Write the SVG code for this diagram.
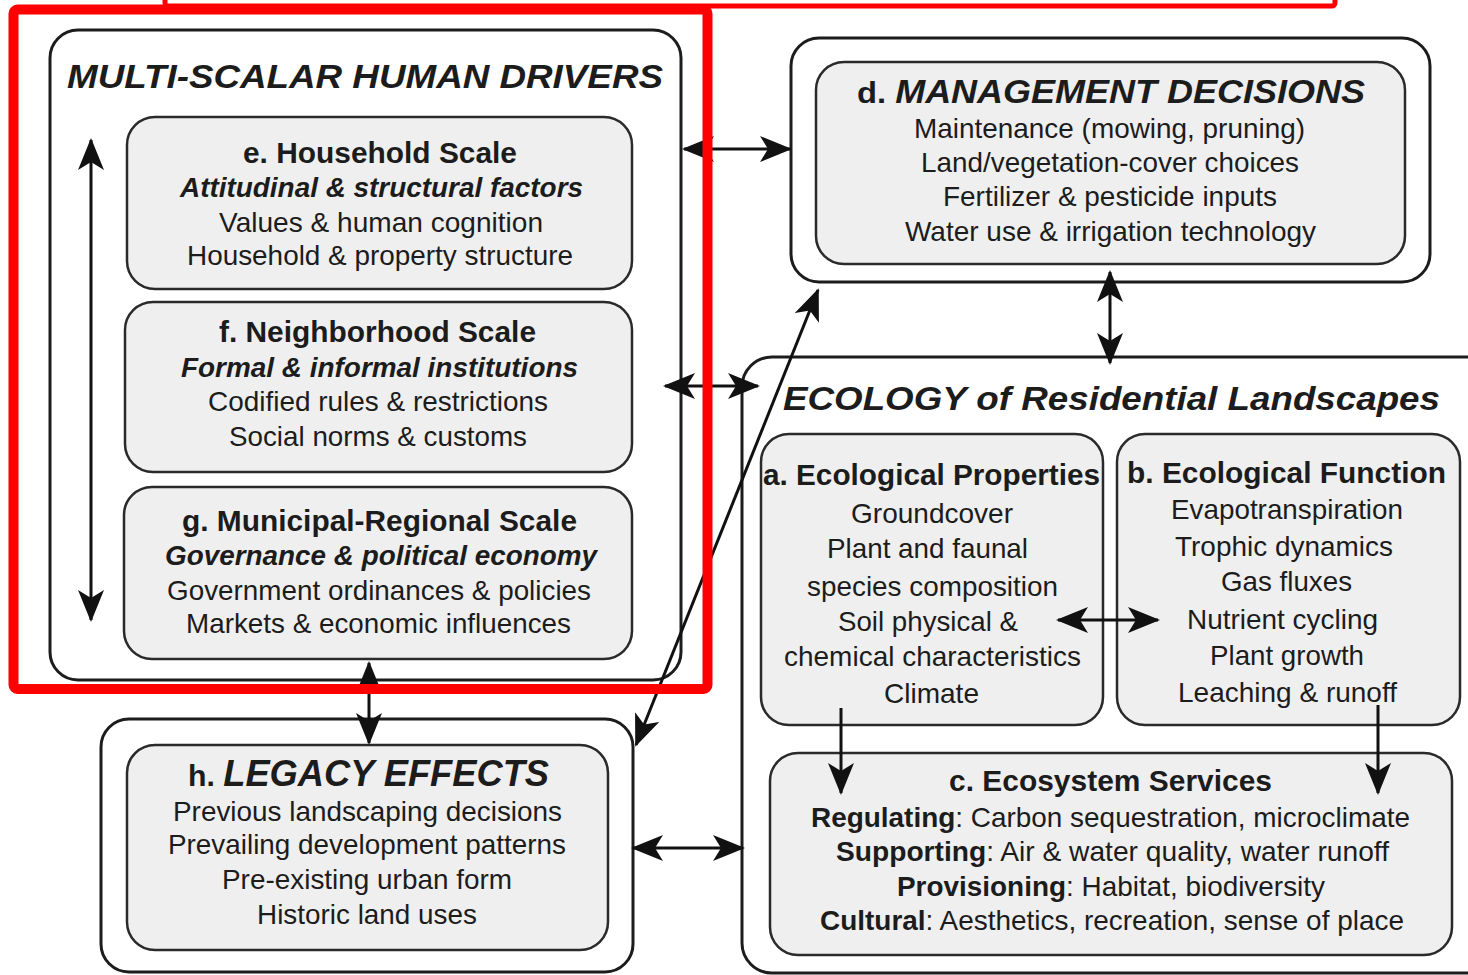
<svg xmlns="http://www.w3.org/2000/svg" width="1468" height="975" viewBox="0 0 1468 975">
<style>
text{font-family:"Liberation Sans",Arial,sans-serif;fill:#1c1c1c;}
.outer{fill:#ffffff;stroke:#1c1c1c;stroke-width:3;}
.inner{fill:#efefef;stroke:#2a2a2a;stroke-width:2.5;}
.t{font-size:28px;}
.h{font-size:29px;font-weight:bold;}
.bi{font-weight:bold;font-style:italic;}
.big{font-size:34px;font-weight:bold;font-style:italic;}
.con{stroke:#111;stroke-width:3;fill:none;}
.red{fill:none;stroke:#ff0000;}
</style>
<defs>
<marker id="ah" markerUnits="userSpaceOnUse" markerWidth="32" markerHeight="26" refX="30" refY="13" orient="auto-start-reverse" viewBox="0 0 32 26">
<path d="M0,0 L32,13 L0,26 L8,13 z" fill="#111"/>
</marker>
</defs>
<rect width="1468" height="975" fill="#ffffff"/>

<g id="multi-scalar">
<rect class="outer" x="50" y="30" width="631" height="650" rx="28"/>
<text class="big" x="67" y="88" textLength="596" lengthAdjust="spacingAndGlyphs">MULTI-SCALAR HUMAN DRIVERS</text>
</g>
<g id="node-e">
<rect class="inner" x="127" y="117" width="505" height="172" rx="28"/>
<text class="h" x="243" y="163" textLength="274" lengthAdjust="spacingAndGlyphs">e. Household Scale</text>
<text class="t bi" x="180" y="197" textLength="403" lengthAdjust="spacingAndGlyphs">Attitudinal &amp; structural factors</text>
<text class="t" x="219" y="232" textLength="324" lengthAdjust="spacingAndGlyphs">Values &amp; human cognition</text>
<text class="t" x="187" y="265" textLength="386" lengthAdjust="spacingAndGlyphs">Household &amp; property structure</text>
</g>
<g id="node-f">
<rect class="inner" x="125" y="302" width="507" height="170" rx="28"/>
<text class="h" x="219" y="342" textLength="317" lengthAdjust="spacingAndGlyphs">f. Neighborhood Scale</text>
<text class="t bi" x="181" y="377" textLength="397" lengthAdjust="spacingAndGlyphs">Formal &amp; informal institutions</text>
<text class="t" x="208" y="411" textLength="340" lengthAdjust="spacingAndGlyphs">Codified rules &amp; restrictions</text>
<text class="t" x="229" y="446" textLength="298" lengthAdjust="spacingAndGlyphs">Social norms &amp; customs</text>
</g>
<g id="node-g">
<rect class="inner" x="124" y="487" width="508" height="172" rx="28"/>
<text class="h" x="182" y="531" textLength="395" lengthAdjust="spacingAndGlyphs">g. Municipal-Regional Scale</text>
<text class="t bi" x="165" y="565" textLength="432" lengthAdjust="spacingAndGlyphs">Governance &amp; political economy</text>
<text class="t" x="167" y="600" textLength="424" lengthAdjust="spacingAndGlyphs">Government ordinances &amp; policies</text>
<text class="t" x="186" y="633" textLength="385" lengthAdjust="spacingAndGlyphs">Markets &amp; economic influences</text>
</g>

<g id="node-d">
<rect class="outer" x="791" y="38" width="639" height="244" rx="28"/>
<rect class="inner" x="816" y="62" width="589" height="202" rx="28"/>
<text x="857" y="103" textLength="508" lengthAdjust="spacingAndGlyphs"><tspan style="font-size:30px;font-weight:bold">d. </tspan><tspan class="bi" style="font-size:33px">MANAGEMENT DECISIONS</tspan></text>
<text class="t" x="914" y="138" textLength="391" lengthAdjust="spacingAndGlyphs">Maintenance (mowing, pruning)</text>
<text class="t" x="921" y="172" textLength="378" lengthAdjust="spacingAndGlyphs">Land/vegetation-cover choices</text>
<text class="t" x="943" y="206" textLength="334" lengthAdjust="spacingAndGlyphs">Fertilizer &amp; pesticide inputs</text>
<text class="t" x="905" y="241" textLength="411" lengthAdjust="spacingAndGlyphs">Water use &amp; irrigation technology</text>
</g>

<g id="ecology">
<rect class="outer" x="742" y="357" width="770" height="616" rx="30"/>
<text class="big" x="783" y="410" textLength="657" lengthAdjust="spacingAndGlyphs">ECOLOGY of Residential Landscapes</text>
</g>
<g id="node-a">
<rect class="inner" x="761" y="434" width="342" height="291" rx="28"/>
<text class="h" x="763" y="485" textLength="337" lengthAdjust="spacingAndGlyphs">a. Ecological Properties</text>
<text class="t" x="851" y="523" textLength="162" lengthAdjust="spacingAndGlyphs">Groundcover</text>
<text class="t" x="827" y="558" textLength="201" lengthAdjust="spacingAndGlyphs">Plant and faunal</text>
<text class="t" x="807" y="596" textLength="251" lengthAdjust="spacingAndGlyphs">species composition</text>
<text class="t" x="838" y="631" textLength="180" lengthAdjust="spacingAndGlyphs">Soil physical &amp;</text>
<text class="t" x="784" y="666" textLength="297" lengthAdjust="spacingAndGlyphs">chemical characteristics</text>
<text class="t" x="884" y="703" textLength="95" lengthAdjust="spacingAndGlyphs">Climate</text>
</g>
<g id="node-b">
<rect class="inner" x="1117" y="434" width="343" height="291" rx="28"/>
<text class="h" x="1127" y="483" textLength="319" lengthAdjust="spacingAndGlyphs">b. Ecological Function</text>
<text class="t" x="1171" y="519" textLength="232" lengthAdjust="spacingAndGlyphs">Evapotranspiration</text>
<text class="t" x="1175" y="556" textLength="218" lengthAdjust="spacingAndGlyphs">Trophic dynamics</text>
<text class="t" x="1221" y="591" textLength="131" lengthAdjust="spacingAndGlyphs">Gas fluxes</text>
<text class="t" x="1187" y="629" textLength="191" lengthAdjust="spacingAndGlyphs">Nutrient cycling</text>
<text class="t" x="1210" y="665" textLength="154" lengthAdjust="spacingAndGlyphs">Plant growth</text>
<text class="t" x="1178" y="702" textLength="219" lengthAdjust="spacingAndGlyphs">Leaching &amp; runoff</text>
</g>
<g id="node-c">
<rect class="inner" x="770" y="753" width="682" height="202" rx="28"/>
<text class="h" x="949" y="791" textLength="323" lengthAdjust="spacingAndGlyphs">c. Ecosystem Services</text>
<text class="t" x="811" y="827" textLength="599" lengthAdjust="spacingAndGlyphs"><tspan font-weight="bold">Regulating</tspan>: Carbon sequestration, microclimate</text>
<text class="t" x="836" y="861" textLength="553" lengthAdjust="spacingAndGlyphs"><tspan font-weight="bold">Supporting</tspan>: Air &amp; water quality, water runoff</text>
<text class="t" x="897" y="896" textLength="428" lengthAdjust="spacingAndGlyphs"><tspan font-weight="bold">Provisioning</tspan>: Habitat, biodiversity</text>
<text class="t" x="820" y="930" textLength="584" lengthAdjust="spacingAndGlyphs"><tspan font-weight="bold">Cultural</tspan>: Aesthetics, recreation, sense of place</text>
</g>

<g id="node-h">
<rect class="outer" x="101" y="719" width="532" height="253" rx="28"/>
<rect class="inner" x="127" y="745" width="481" height="205" rx="28"/>
<text x="188" y="786" textLength="361" lengthAdjust="spacingAndGlyphs"><tspan style="font-size:30px;font-weight:bold">h. </tspan><tspan class="bi" style="font-size:36px">LEGACY EFFECTS</tspan></text>
<text class="t" x="173" y="821" textLength="389" lengthAdjust="spacingAndGlyphs">Previous landscaping decisions</text>
<text class="t" x="168" y="854" textLength="398" lengthAdjust="spacingAndGlyphs">Prevailing development patterns</text>
<text class="t" x="222" y="889" textLength="290" lengthAdjust="spacingAndGlyphs">Pre-existing urban form</text>
<text class="t" x="257" y="924" textLength="220" lengthAdjust="spacingAndGlyphs">Historic land uses</text>
</g>

<g id="connectors">
<line class="con" x1="91" y1="140" x2="91" y2="620" marker-start="url(#ah)" marker-end="url(#ah)"/>
<line class="con" x1="684" y1="149" x2="790" y2="149" marker-start="url(#ah)" marker-end="url(#ah)"/>
<line class="con" x1="1110" y1="272" x2="1110" y2="363" marker-start="url(#ah)" marker-end="url(#ah)"/>
<line class="con" x1="665" y1="386" x2="758" y2="386" marker-start="url(#ah)" marker-end="url(#ah)"/>
<line class="con" x1="818" y1="290" x2="636" y2="745" marker-start="url(#ah)" marker-end="url(#ah)"/>
<line class="con" x1="369" y1="663" x2="369" y2="743" marker-start="url(#ah)" marker-end="url(#ah)"/>
<line class="con" x1="633" y1="848" x2="743" y2="848" marker-start="url(#ah)" marker-end="url(#ah)"/>
<line class="con" x1="1058" y1="620" x2="1158" y2="620" marker-start="url(#ah)" marker-end="url(#ah)"/>
<line class="con" x1="841" y1="708" x2="841" y2="793" marker-end="url(#ah)"/>
<line class="con" x1="1378" y1="705" x2="1378" y2="793" marker-end="url(#ah)"/>
</g>

<g id="highlights">
<rect class="red" x="165" y="-30" width="1170" height="36" rx="3" stroke-width="5"/>
<rect class="red" x="13.5" y="9.5" width="694" height="679.5" rx="4" stroke-width="10"/>
</g>
</svg>
